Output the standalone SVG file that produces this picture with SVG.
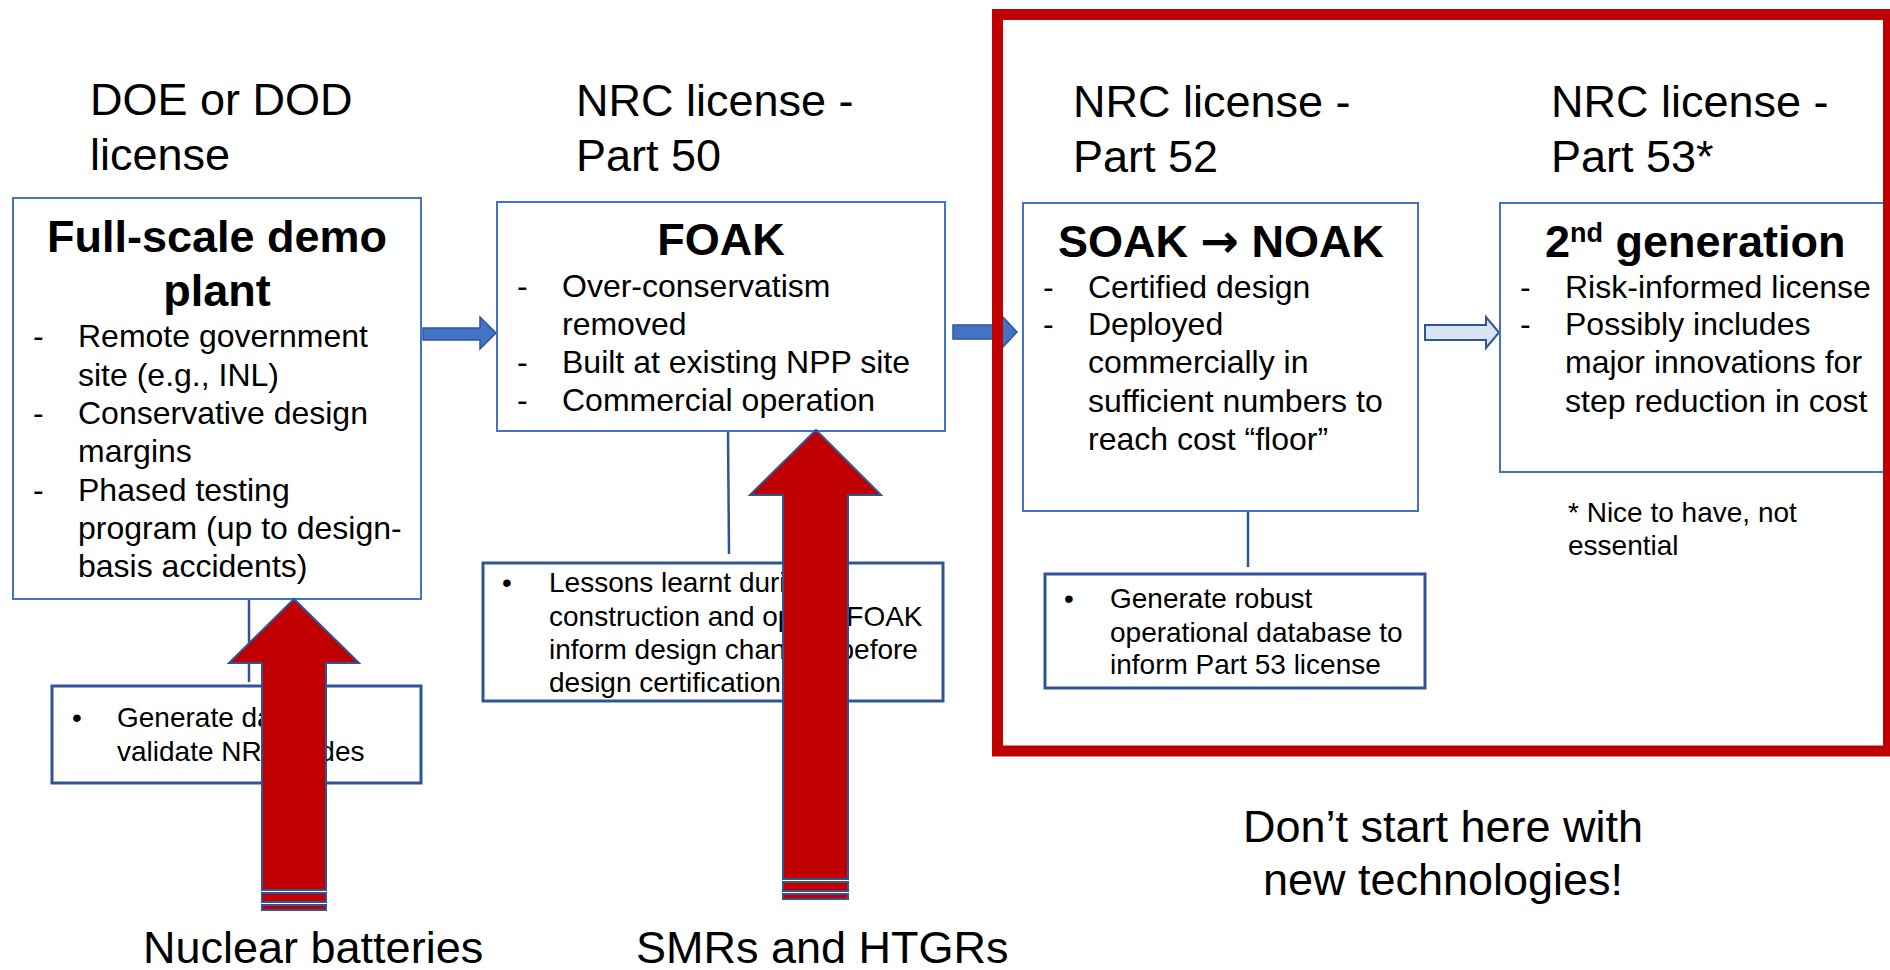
<svg xmlns="http://www.w3.org/2000/svg" width="1890" height="970" viewBox="0 0 1890 970">
  <style>
    text { font-family: "Liberation Sans", Arial, sans-serif; fill: #000; }
    .head { font-size: 45px; }
    .title { font-size: 45px; font-weight: bold; }
    .body { font-size: 32px; }
    .small { font-size: 28px; }
    .box { fill: #fff; stroke: #4472C4; stroke-width: 2; }
    .note { fill: #fff; stroke: #2F5597; stroke-width: 3; }
    .link { stroke: #2F5597; stroke-width: 2.5; fill: none; }
    .flow { fill: #4472C4; stroke: #2F5597; stroke-width: 1.5; }
    .hollow { fill: #DAE3F3; stroke: #2F5597; stroke-width: 2; }
    .entry { fill: #C00000; stroke: #2F5597; stroke-width: 2; }
  </style>
  <rect width="1890" height="970" fill="#fff"/>

  <!-- licensing stage headings -->
  <g id="headings" class="head">
    <text class="head" x="90" y="115">DOE or DOD</text>
    <text class="head" x="90" y="170">license</text>
    <text class="head" x="576" y="116">NRC license -</text>
    <text class="head" x="576" y="171">Part 50</text>
    <text class="head" x="1073" y="117">NRC license -</text>
    <text class="head" x="1073" y="172">Part 52</text>
    <text class="head" x="1551" y="117">NRC license -</text>
    <text class="head" x="1551" y="172">Part 53*</text>
  </g>

  <!-- connectors: stage-to-stage arrows and note leaders -->
  <g id="connectors">
    <path class="flow" d="M423,328 L480,328 L480,317 L496,333 L480,349 L480,340 L423,340 Z"/>
    <path class="flow" d="M953,325 L1001,325 L1001,315 L1017,332 L1001,349 L1001,339 L953,339 Z"/>
    <path class="hollow" d="M1425,325 L1486,325 L1486,317 L1499,332.5 L1486,348 L1486,340 L1425,340 Z"/>
    <line class="link" x1="249" y1="599" x2="249" y2="682"/>
    <line class="link" x1="728" y1="431" x2="729" y2="554"/>
    <line class="link" x1="1248" y1="511" x2="1248" y2="567"/>
  </g>

  <!-- stage 1 -->
  <g id="demo-plant">
    <rect class="box" x="13" y="198" width="408" height="401"/>
    <text class="title" x="217" y="252" text-anchor="middle">Full-scale demo</text>
    <text class="title" x="217" y="306" text-anchor="middle">plant</text>
    <text class="body" x="33" y="347">-</text>
    <text class="body" x="78" y="347">Remote government</text>
    <text class="body" x="78" y="386">site (e.g., INL)</text>
    <text class="body" x="33" y="424">-</text>
    <text class="body" x="78" y="424">Conservative design</text>
    <text class="body" x="78" y="462">margins</text>
    <text class="body" x="33" y="501">-</text>
    <text class="body" x="78" y="501">Phased testing</text>
    <text class="body" x="78" y="539">program (up to design-</text>
    <text class="body" x="78" y="577">basis accidents)</text>
  </g>

  <!-- stage 2 -->
  <g id="foak">
    <rect class="box" x="497" y="202" width="448" height="229"/>
    <text class="title" x="721" y="255" text-anchor="middle">FOAK</text>
    <text class="body" x="517" y="297">-</text>
    <text class="body" x="562" y="297">Over-conservatism</text>
    <text class="body" x="562" y="335">removed</text>
    <text class="body" x="517" y="373">-</text>
    <text class="body" x="562" y="373">Built at existing NPP site</text>
    <text class="body" x="517" y="411">-</text>
    <text class="body" x="562" y="411">Commercial operation</text>
  </g>

  <!-- stage 3 -->
  <g id="soak-noak">
    <rect class="box" x="1023" y="203" width="395" height="308"/>
    <text class="title" x="1221" y="257" text-anchor="middle">SOAK <tspan font-family="'DejaVu Sans', sans-serif" font-size="46">→</tspan> NOAK</text>
    <text class="body" x="1043" y="298">-</text>
    <text class="body" x="1088" y="298">Certified design</text>
    <text class="body" x="1043" y="335">-</text>
    <text class="body" x="1088" y="335">Deployed</text>
    <text class="body" x="1088" y="373">commercially in</text>
    <text class="body" x="1088" y="412">sufficient numbers to</text>
    <text class="body" x="1088" y="450">reach cost “floor”</text>
  </g>

  <!-- stage 4 -->
  <g id="second-generation">
    <rect class="box" x="1500" y="203" width="400" height="269"/>
    <text class="title" x="1545" y="257">2<tspan font-size="27" dy="-15">nd</tspan><tspan dy="15"> generation</tspan></text>
    <text class="body" x="1520" y="298">-</text>
    <text class="body" x="1565" y="298">Risk-informed license</text>
    <text class="body" x="1520" y="335">-</text>
    <text class="body" x="1565" y="335">Possibly includes</text>
    <text class="body" x="1565" y="373">major innovations for</text>
    <text class="body" x="1565" y="412">step reduction in cost</text>
  </g>

  <g id="footnote">
    <text class="small" x="1568" y="522">* Nice to have, not</text>
    <text class="small" x="1568" y="555">essential</text>
  </g>

  <!-- notes under each stage -->
  <g id="note-demo">
    <rect class="note" x="52" y="686" width="369" height="97"/>
    <text class="small" x="72" y="727">•</text>
    <text class="small" x="117" y="727">Generate data to</text>
    <text class="small" x="117" y="761">validate NRC codes</text>
  </g>

  <g id="note-foak">
    <rect class="note" x="483" y="563" width="460" height="138"/>
    <text class="small" x="502" y="592">•</text>
    <text class="small" x="549" y="592">Lessons learnt during</text>
    <text class="small" x="549" y="626">construction and ops of FOAK</text>
    <text class="small" x="549" y="659">inform design changes before</text>
    <text class="small" x="549" y="692">design certification</text>
  </g>

  <g id="note-soak">
    <rect class="note" x="1045" y="574" width="380" height="114"/>
    <text class="small" x="1064" y="608">•</text>
    <text class="small" x="1110" y="608">Generate robust</text>
    <text class="small" x="1110" y="642">operational database to</text>
    <text class="small" x="1110" y="674">inform Part 53 license</text>
  </g>

  <!-- entry points for the technologies -->
  <g id="entry-batteries">
    <path class="entry" d="M294,599 L359,663 L326,663 L326,890 L262,890 L262,663 L229,663 Z"/>
    <rect class="entry" x="262" y="893" width="64" height="9"/>
    <rect class="entry" x="262" y="905" width="64" height="5"/>
    <text class="head" x="143" y="963">Nuclear batteries</text>
  </g>

  <g id="entry-smr">
    <path class="entry" d="M816,430 L881,495 L848,495 L848,879 L783,879 L783,495 L750,495 Z"/>
    <rect class="entry" x="783" y="882" width="65" height="9"/>
    <rect class="entry" x="783" y="894" width="65" height="5"/>
    <text class="head" x="636" y="963">SMRs and HTGRs</text>
  </g>

  <!-- later stages, not a starting point -->
  <g id="avoid-frame">
    <rect x="997.5" y="14.5" width="891" height="736.5" fill="none" stroke="#C00000" stroke-width="11"/>
  </g>

  <g id="warning">
    <text class="head" x="1443" y="842" text-anchor="middle">Don’t start here with</text>
    <text class="head" x="1443" y="895" text-anchor="middle">new technologies!</text>
  </g>
</svg>
